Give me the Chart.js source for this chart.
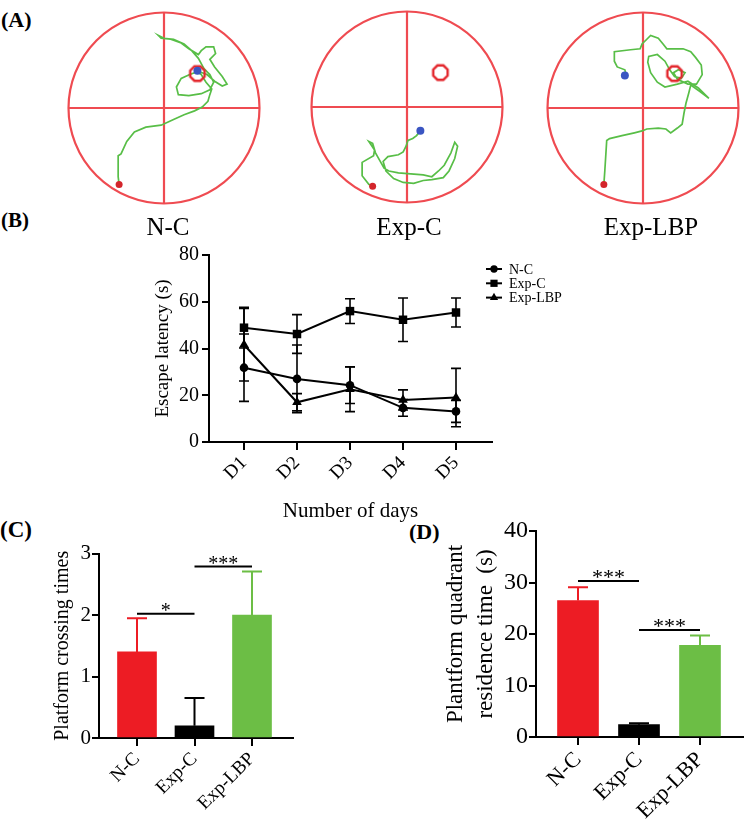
<!DOCTYPE html>
<html>
<head>
<meta charset="utf-8">
<script src="https://cdn.jsdelivr.net/npm/chart.js@4.4.1/dist/chart.umd.min.js"></script>
<style>
  body { margin: 0; background: #fff; }
  #fig { position: relative; width: 752px; height: 826px; overflow: hidden;
         font-family: 'Liberation Serif', 'Times New Roman', serif; color: #000; }
  canvas { position: absolute; }
  .lbl { position: absolute; line-height: 1; white-space: nowrap; }
  .grp { position: absolute; width: 140px; text-align: center; font-size: 25px; line-height: 1; top: 214px; }
</style>
</head>
<body>
<div id="fig">
  <div class="lbl" style="left:1px;top:9px;font-size:22px;font-weight:bold">(A)</div>
  <div class="lbl" style="left:1px;top:210px;font-size:21px;font-weight:bold">(B)</div>
  <div class="lbl" style="left:0px;top:518px;font-size:23px;font-weight:bold">(C)</div>
  <div class="lbl" style="left:409px;top:521px;font-size:22px;font-weight:bold">(D)</div>

  <canvas id="poolNC" width="220" height="220" style="left:54px;top:-2px"></canvas>
  <canvas id="poolExpC" width="220" height="220" style="left:297px;top:-3px"></canvas>
  <canvas id="poolLBP" width="220" height="220" style="left:533px;top:-2px"></canvas>
  <div class="grp" style="left:98px">N-C</div>
  <div class="grp" style="left:339px">Exp-C</div>
  <div class="grp" style="left:581px">Exp-LBP</div>

  <canvas id="latency" width="430" height="290" style="left:140px;top:240px"></canvas>
  <canvas id="crossing" width="300" height="286" style="left:0px;top:540px"></canvas>
  <canvas id="residence" width="332" height="311" style="left:420px;top:515px"></canvas>
</div>

<script>
// ---- data ----
var GROUPS = ['N-C', 'Exp-C', 'Exp-LBP'];

// swim paths, pool radius = 100, origin at pool centre, y up
var POOL_R = 100;
var NC_PATH = [[-47,-80],[-48,-72],[-48,-50],[-45,-48],[-39,-35],[-31,-25],[-19,-20],[-3,-18],[10,-12],[21,-7],
  [32,-3],[40,1],[46,7],[48,14],[50,20],[44,27],[39,35],[35,38],[27,35],[18,31],[13,22],[15,14],[26,13],[39,15],
  [48,19],[52,27],[48,35],[42,41],[36,52],[29,60],[21,67],[10,72],[0,73],[-6,76],[-3,73],[7,72],[18,68],[26,62],
  [36,56],[39,60],[44,64],[52,64],[54,57],[48,51],[53,43],[61,33],[66,25],[61,23],[53,28],[45,35],[37,38],[35,39]];
var EXPC_PATH = [[-36,-83],[-40,-81],[-47,-72],[-47,-58],[-35,-51],[-34,-45],[-38,-39],[-40,-36],[-36,-38],[-33,-48],
  [-28,-57],[-24,-64],[-19,-67],[-9,-69],[4,-70],[17,-71],[26,-73],[33,-67],[39,-61],[46,-48],[50,-37],[53,-41],
  [50,-54],[44,-67],[38,-74],[26,-76],[17,-77],[7,-80],[-4,-79],[-14,-75],[-22,-67],[-25,-57],[-20,-52],[-9,-50],
  [-4,-47],[-1,-41],[1,-35],[6,-33],[10,-30],[14,-25]];
var LBP_PATH = [[-41,-80],[-40,-66],[-39,-50],[-38,-34],[-35,-32],[-22,-29],[-9,-26],[-1,-24],[4,-22],[16,-21],
  [24,-22],[29,-26],[36,-21],[41,-17],[43,-5],[45,5],[48,16],[50,24],[60,17],[69,10],[58,21],[47,28],[36,25],
  [23,22],[15,27],[8,37],[5,48],[6,54],[15,56],[23,49],[28,40],[33,33],[40,31],[44,37],[37,40],[32,37],[36,30],
  [47,25],[56,25],[62,35],[61,45],[55,53],[50,59],[42,62],[25,62],[21,67],[16,73],[8,76],[4,72],[-1,67],[-3,62],
  [-13,61],[-30,59],[-30,49],[-27,43],[-19,40],[-18,36]];
var NC_START = [-47,-80], NC_END = [35,39], NC_PLATFORM = [35,36];
var EXPC_START = [-36,-83], EXPC_END = [14,-25], EXPC_PLATFORM = [35,36];
var LBP_START = [-41,-80], LBP_END = [-19,34], LBP_PLATFORM = [33,36];

// (B) escape latency
var DAYS = ['D1', 'D2', 'D3', 'D4', 'D5'];
var NC_MEAN = [31.8, 27.0, 24.3, 14.6, 13.1];
var NC_SD = [14.4, 14.5, 7.8, 3.6, 4.7];
var EXPC_MEAN = [48.9, 46.2, 56.0, 52.3, 55.4];
var EXPC_SD = [8.7, 8.3, 5.3, 9.3, 6.2];
var LBP_MEAN = [41.6, 17.0, 22.6, 18.0, 19.0];
var LBP_SD = [15.5, 3.7, 9.6, 4.3, 12.5];
var LATENCY_TICKS = [0, 20, 40, 60, 80];

// (C) platform crossing times
var CROSS_MEAN = [1.4, 0.2, 2.0];
var CROSS_SD = [0.55, 0.45, 0.71];
var CROSS_TICKS = [0, 1, 2, 3];
var CROSS_SIG = [{ a: 0, b: 1, y: 2.02, text: '*' }, { a: 1, b: 2, y: 2.79, text: '***' }];

// (D) platform quadrant residence time
var RES_MEAN = [26.5, 2.4, 17.8];
var RES_SD = [2.6, 0.25, 1.9];
var RES_TICKS = [0, 10, 20, 30, 40];
var RES_SIG = [{ a: 0, b: 1, y: 30.3, text: '***' }, { a: 1, b: 2, y: 20.8, text: '***' }];

var BAR_COLORS = ['#ED1C24', '#000000', '#6CBE45'];

// ---- chart setup ----
var FONT = "'Liberation Serif', 'Times New Roman', serif";
Chart.defaults.font.family = FONT;
Chart.defaults.color = '#000';
Chart.defaults.animation = false;
Chart.defaults.events = [];
Chart.defaults.plugins.legend.display = false;
Chart.defaults.plugins.tooltip.enabled = false;

function xy(p) { return { x: p[0], y: p[1] }; }

// octagon used as the platform marker
var octagon = document.createElement('canvas');
octagon.width = 22; octagon.height = 22;
(function () {
  var c = octagon.getContext('2d');
  c.strokeStyle = '#E3262C';
  c.lineWidth = 2.4;
  c.beginPath();
  for (var k = 0; k < 8; k++) {
    var a = Math.PI / 8 + k * Math.PI / 4;
    var px = 11 + 7.8 * Math.cos(a), py = 11 + 7.8 * Math.sin(a);
    if (k === 0) c.moveTo(px, py); else c.lineTo(px, py);
  }
  c.closePath();
  c.stroke();
})();

// pool outline and quadrant lines
var poolFrame = {
  id: 'poolFrame',
  beforeDatasetsDraw: function (chart) {
    var ctx = chart.ctx, sx = chart.scales.x, sy = chart.scales.y;
    var cx = sx.getPixelForValue(0), cy = sy.getPixelForValue(0);
    var r = sx.getPixelForValue(POOL_R) - cx;
    ctx.save();
    ctx.strokeStyle = '#EF4B51';
    ctx.lineWidth = 2.2;
    ctx.beginPath();
    ctx.arc(cx, cy, r, 0, Math.PI * 2);
    ctx.stroke();
    ctx.beginPath();
    ctx.moveTo(sx.getPixelForValue(-POOL_R), cy);
    ctx.lineTo(sx.getPixelForValue(POOL_R), cy);
    ctx.moveTo(cx, sy.getPixelForValue(POOL_R));
    ctx.lineTo(cx, sy.getPixelForValue(-POOL_R));
    ctx.stroke();
    ctx.restore();
  }
};

var VIEW = 110 / 1.04;

function makePool(id, path, start, end, platform) {
  new Chart(document.getElementById(id), {
    type: 'scatter',
    data: {
      datasets: [
        { data: [xy(end)], pointRadius: 4, backgroundColor: '#3A55C2', borderWidth: 0 },
        { data: [xy(start)], pointRadius: 3.5, backgroundColor: '#D3252B', borderWidth: 0 },
        { data: [xy(platform)], pointStyle: octagon, pointRadius: 8 },
        { data: path.map(xy), showLine: true, pointRadius: 0, borderColor: '#58BE47', borderWidth: 1.7, tension: 0 }
      ]
    },
    options: {
      responsive: false,
      layout: { padding: 0 },
      scales: {
        x: { type: 'linear', min: -VIEW, max: VIEW, display: false },
        y: { type: 'linear', min: -VIEW, max: VIEW, display: false }
      }
    },
    plugins: [poolFrame]
  });
}

makePool('poolNC', NC_PATH, NC_START, NC_END, NC_PLATFORM);
makePool('poolExpC', EXPC_PATH, EXPC_START, EXPC_END, EXPC_PLATFORM);
makePool('poolLBP', LBP_PATH, LBP_START, LBP_END, LBP_PLATFORM);

// error bars (mean +/- SD, or mean + SD for bars)
var errorBars = {
  id: 'errorBars',
  beforeDatasetsDraw: function (chart, args, opts) {
    var ctx = chart.ctx, sy = chart.scales.y;
    chart.data.datasets.forEach(function (ds, i) {
      if (!ds.errorBars) return;
      var meta = chart.getDatasetMeta(i);
      meta.data.forEach(function (el, j) {
        var v = ds.data[j].y, e = ds.errorBars[j];
        var top = sy.getPixelForValue(v + e);
        var bot = opts.upOnly ? sy.getPixelForValue(v) : sy.getPixelForValue(v - e);
        ctx.save();
        ctx.strokeStyle = Array.isArray(ds.backgroundColor) ? ds.backgroundColor[j] : ds.borderColor;
        ctx.lineWidth = opts.width;
        ctx.beginPath();
        ctx.moveTo(el.x, top); ctx.lineTo(el.x, bot);
        ctx.moveTo(el.x - opts.cap, top); ctx.lineTo(el.x + opts.cap, top);
        if (!opts.upOnly) { ctx.moveTo(el.x - opts.cap, bot); ctx.lineTo(el.x + opts.cap, bot); }
        ctx.stroke();
        ctx.restore();
      });
    });
  }
};

// significance brackets
var sigLines = {
  id: 'sigLines',
  afterDatasetsDraw: function (chart, args, opts) {
    var ctx = chart.ctx, sx = chart.scales.x, sy = chart.scales.y;
    opts.items.forEach(function (s) {
      var x1 = sx.getPixelForValue(s.a + 1), x2 = sx.getPixelForValue(s.b + 1);
      var yy = sy.getPixelForValue(s.y);
      ctx.save();
      ctx.strokeStyle = '#000';
      ctx.lineWidth = 2;
      ctx.beginPath();
      ctx.moveTo(x1, yy); ctx.lineTo(x2, yy);
      ctx.stroke();
      ctx.fillStyle = '#000';
      ctx.font = opts.fontSize + 'px ' + FONT;
      ctx.textAlign = 'center';
      ctx.textBaseline = 'alphabetic';
      ctx.fillText(s.text, (x1 + x2) / 2, yy + 3);
      ctx.restore();
    });
  }
};

// legend with line + marker, top right of panel B
var lineLegend = {
  id: 'lineLegend',
  afterDraw: function (chart) {
    var ctx = chart.ctx, area = chart.chartArea;
    chart.data.datasets.forEach(function (ds, i) {
      var y = area.top + 14 + i * 14.3;
      var x0 = area.right - 6, x1 = area.right + 10;
      ctx.save();
      ctx.strokeStyle = '#000';
      ctx.fillStyle = '#000';
      ctx.lineWidth = 2;
      ctx.beginPath();
      ctx.moveTo(x0, y); ctx.lineTo(x1, y);
      ctx.stroke();
      Chart.helpers.drawPoint(ctx, { pointStyle: ds.pointStyle, radius: ds.pointRadius * 0.85, borderWidth: 0, rotation: 0 }, (x0 + x1) / 2, y);
      ctx.font = '14px ' + FONT;
      ctx.textAlign = 'left';
      ctx.textBaseline = 'middle';
      ctx.fillText(ds.label, x1 + 7, y + 1);
      ctx.restore();
    });
  }
};

function axisStyle(tickLen) {
  return {
    grid: { drawOnChartArea: false, drawTicks: true, tickLength: tickLen, color: '#000', lineWidth: 2 },
    border: { display: true, color: '#000', width: 2 }
  };
}

function series(label, mean, sd, style, radius) {
  return {
    label: label,
    data: mean.map(function (v, i) { return { x: i + 1, y: v }; }),
    errorBars: sd,
    borderColor: '#000',
    backgroundColor: '#000',
    borderWidth: 2,
    pointStyle: style,
    pointRadius: radius,
    pointBorderWidth: 0,
    tension: 0
  };
}

// (B)
var latX = Object.assign(axisStyle(8), {
  type: 'linear', min: 1 - 35 / 53, max: 5 + 36 / 53,
  afterBuildTicks: function (s) { s.ticks = DAYS.map(function (d, i) { return { value: i + 1 }; }); },
  afterFit: function (s) { s.height = 88; },
  ticks: { minRotation: 45, maxRotation: 45, padding: 2, font: { size: 19 },
           callback: function (v) { return DAYS[v - 1]; } },
  title: { display: true, text: 'Number of days', font: { size: 21 }, padding: { top: 0, bottom: 6 } }
});
var latY = Object.assign(axisStyle(7), {
  min: 0, max: 80,
  afterBuildTicks: function (s) { s.ticks = LATENCY_TICKS.map(function (v) { return { value: v }; }); },
  afterFit: function (s) { s.width = 69; },
  ticks: { padding: 3, font: { size: 20 } },
  title: { display: true, text: 'Escape latency (s)', font: { size: 19 }, padding: { top: 12, bottom: 0 } }
});
new Chart(document.getElementById('latency'), {
  type: 'line',
  data: {
    datasets: [
      series('N-C', NC_MEAN, NC_SD, 'circle', 4.3),
      series('Exp-C', EXPC_MEAN, EXPC_SD, 'rect', 6),
      series('Exp-LBP', LBP_MEAN, LBP_SD, 'triangle', 5.6)
    ]
  },
  options: {
    responsive: false,
    layout: { padding: { top: 14, right: 78, left: 0, bottom: 0 } },
    scales: { x: latX, y: latY },
    plugins: { errorBars: { width: 1.6, cap: 5, upOnly: false } }
  },
  plugins: [errorBars, lineLegend]
});

// (C) and (D)
function barChart(id, mean, sd, ticksArr, sig, geom) {
  var xs = Object.assign(axisStyle(8), {
    type: 'linear', offset: false, min: geom.xmin, max: geom.xmax,
    afterBuildTicks: function (s) { s.ticks = GROUPS.map(function (g, i) { return { value: i + 1 }; }); },
    afterFit: function (s) { s.height = geom.xh; },
    ticks: { minRotation: 45, maxRotation: 45, padding: 2, font: { size: geom.xfont },
             callback: function (v) { return GROUPS[v - 1]; } }
  });
  xs.grid.offset = false;
  var ys = Object.assign(axisStyle(7), {
    min: ticksArr[0], max: ticksArr[ticksArr.length - 1],
    afterBuildTicks: function (s) { s.ticks = ticksArr.map(function (v) { return { value: v }; }); },
    afterFit: function (s) { s.width = geom.yw; },
    ticks: { padding: 1, font: { size: geom.yfont } },
    title: { display: true, text: geom.title, font: { size: geom.tfont, lineHeight: geom.tlh },
             padding: { top: geom.tpad, bottom: 0 } }
  });
  new Chart(document.getElementById(id), {
    type: 'bar',
    data: {
      datasets: [{
        data: mean.map(function (v, i) { return { x: i + 1, y: v }; }),
        errorBars: sd,
        backgroundColor: BAR_COLORS,
        borderWidth: 0,
        barThickness: geom.bar
      }]
    },
    options: {
      responsive: false,
      layout: { padding: { top: geom.top, right: geom.right, left: 0, bottom: 0 } },
      scales: { x: xs, y: ys },
      plugins: {
        errorBars: { width: 2, cap: 10, upOnly: true },
        sigLines: { items: sig, fontSize: geom.sfont }
      }
    },
    plugins: [errorBars, sigLines]
  });
}

barChart('crossing', CROSS_MEAN, CROSS_SD, CROSS_TICKS, CROSS_SIG, {
  xmin: 1 - 38 / 57.5, xmax: 3 + 41 / 57.5, xh: 88, yw: 99, top: 11, right: 7, bar: 39,
  xfont: 19, yfont: 21, title: 'Platform crossing times', tfont: 20, tlh: 1.2, tpad: 51, sfont: 20
});
barChart('residence', RES_MEAN, RES_SD, RES_TICKS, RES_SIG, {
  xmin: 1 - 42 / 61, xmax: 3 + 43 / 61, xh: 89, yw: 116, top: 16, right: 9, bar: 41,
  xfont: 22, yfont: 24, title: ['Plantform quadrant', 'residence time  (s)'], tfont: 23, tlh: 1.3, tpad: 21, sfont: 22
});
</script>
</body>
</html>
